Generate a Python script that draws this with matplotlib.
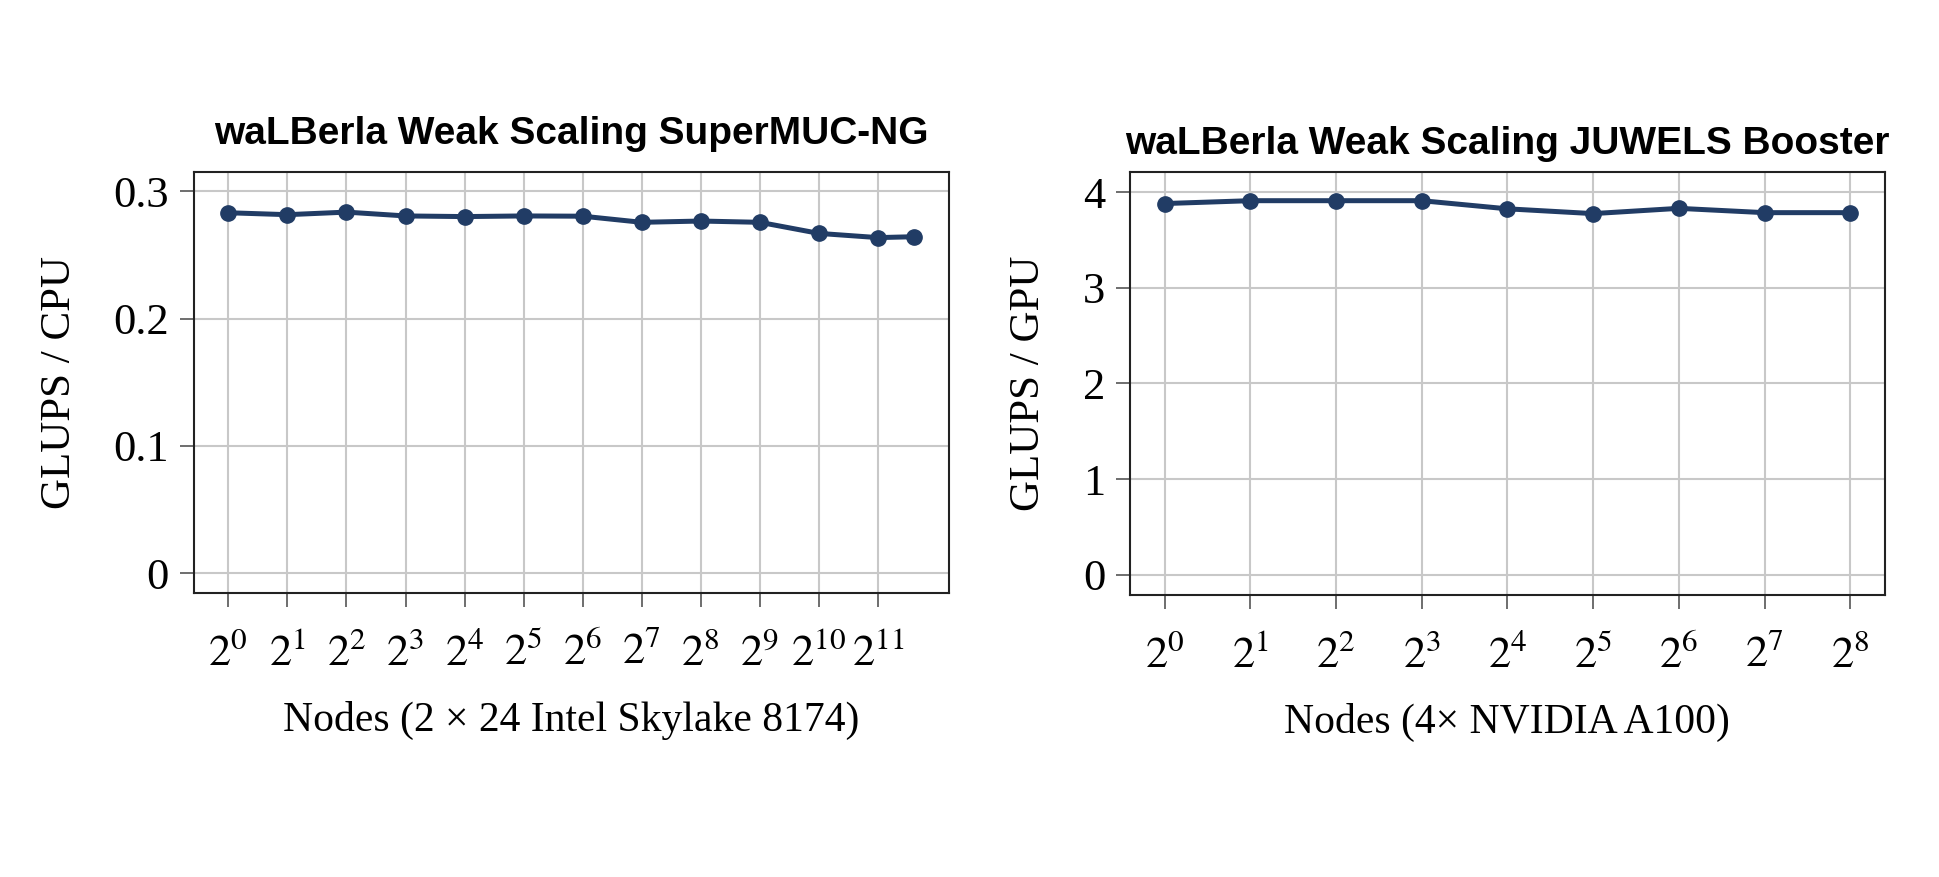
import numpy as np
import matplotlib
matplotlib.use("Agg")
import matplotlib.pyplot as plt

plt.rcParams['font.family'] = ['Liberation Serif', 'DejaVu Serif']
plt.rcParams['mathtext.fontset'] = 'stix'

# SuperMUC-NG (CPU)
cpu_nodes = [1, 2, 4, 8, 16, 32, 64, 128, 256, 512, 1024, 2048, 3136]
cpu_glups = [0.283, 0.2815, 0.2835, 0.2805, 0.280, 0.2805, 0.2803, 0.2755,
             0.2765, 0.2755, 0.2668, 0.2635, 0.2642]
cpu_ticks = [2 ** k for k in range(12)]

# JUWELS Booster (GPU)
gpu_nodes = [1, 2, 4, 8, 16, 32, 64, 128, 256]
gpu_glups = [3.88, 3.91, 3.91, 3.91, 3.825, 3.775, 3.83, 3.785, 3.785]
gpu_ticks = [2 ** k for k in range(9)]

line_color = '#213c65'

fig = plt.figure(figsize=(19.39, 8.77), dpi=100)
ax1 = fig.add_axes([0.1001, 0.3244, 0.3891, 0.4795])
ax2 = fig.add_axes([0.5829, 0.3216, 0.3890, 0.4823])


def style_axis(ax, xs, ys, ticks, yticks, ylim, title, xlabel, ylabel, tpad):
    ax.plot(xs, ys, color=line_color, linewidth=3.6, marker='o', markersize=11,
            zorder=3)
    ax.set_xscale('log', base=2)
    ax.set_xticks(ticks)
    ax.set_xticklabels([f'$2^{{{k}}}$' for k in range(len(ticks))])
    ax.minorticks_off()
    ax.set_yticks(yticks)
    ax.set_yticklabels([f'{v:g}' for v in yticks])
    ax.set_ylim(*ylim)
    ax.grid(True, color='#c8c8c8', linewidth=1.5)
    ax.set_axisbelow(True)
    ax.tick_params(direction='out', length=10, width=1.2, labelsize=32,
                   pad=8, color='#555555')
    ax.tick_params(axis='x', pad=19)
    for s in ax.spines.values():
        s.set_linewidth(1.5)
        s.set_color('#222222')
    ax.set_title(title, fontsize=28, fontweight='bold',
                 family=['Liberation Sans', 'DejaVu Sans'], pad=tpad)
    ax.set_xlabel(xlabel, fontsize=30, labelpad=19)
    ax.set_ylabel(ylabel, fontsize=31, labelpad=25)


style_axis(ax1, cpu_nodes, cpu_glups, cpu_ticks, [0, 0.1, 0.2, 0.3],
           (-0.015, 0.315), 'waLBerla Weak Scaling SuperMUC-NG',
           'Nodes (2 × 24 Intel Skylake 8174)', 'GLUPS / CPU', 20)
style_axis(ax2, gpu_nodes, gpu_glups, gpu_ticks, [0, 1, 2, 3, 4],
           (-0.21, 4.21), 'waLBerla Weak Scaling JUWELS Booster',
           'Nodes (4× NVIDIA A100)', 'GLUPS / GPU', 13)

fig.savefig('out.png', dpi=100)
